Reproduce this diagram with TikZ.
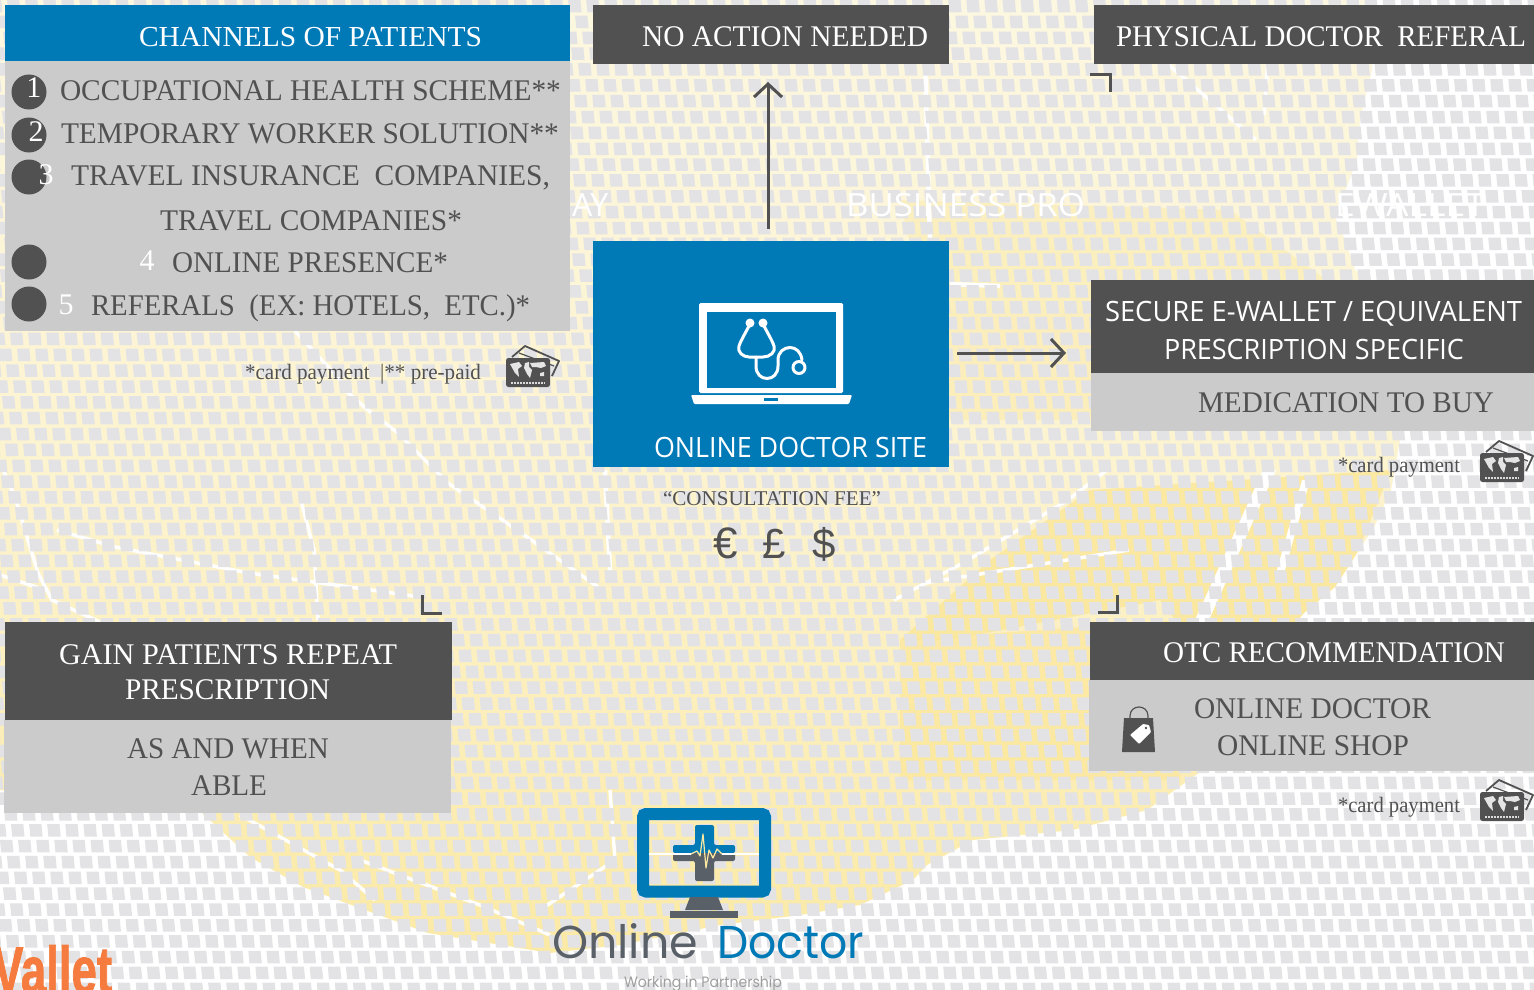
\documentclass[tikz,border=0pt]{standalone}
\usepackage{graphicx}
\usepackage{fontspec}
\usetikzlibrary{arrows.meta}
\setmainfont{Liberation Serif}
\newfontfamily\osans{Open Sans}
\newfontfamily\lsans{Liberation Sans}
\newfontfamily\vbold[BoldFeatures={FakeBold=1.6}]{Liberation Sans}
\newfontfamily\popl{Poppins}
\definecolor{dk}{HTML}{515151}
\definecolor{gr}{HTML}{CBCBCB}
\definecolor{bl}{HTML}{0079B7}
\definecolor{sq}{HTML}{E3E3E5}
\definecolor{ypale}{HTML}{FCF7E0}
\definecolor{ymid}{HTML}{FCF3CE}
\definecolor{ystr}{HTML}{FBE9A2}
\definecolor{ytop}{HTML}{FBE79A}
\definecolor{og}{HTML}{F57C3E}
\definecolor{lg}{HTML}{5A6068}
\newcommand\fw[2]{\resizebox{#1pt}{\height}{#2}}
\newcommand\fz[1]{\fontsize{#1pt}{#1pt}\selectfont}
\newcommand\txt[6]{\node[lab,text=#6] (#1) at (#2,#3) {\fw{#4}{#5}};}
\newcommand\bx[6]{\node[boxn,fill=#6,minimum width=#4pt,minimum height=#5pt] (#1) at (#2,#3) {};}
\newcommand\ylshape{(0,0) -- (1376,0) -- (1372,70) -- (1360,120) -- (1357,160) -- (1335,217) -- (1345,240) -- (1355,270) -- (1400,300) -- (1400,440) -- (1391,490) -- (1374,527) -- (1335,587) -- (1304,613) -- (1230,700) -- (1200,772) -- (1147,810) -- (1073,830) -- (973,840) -- (927,865) -- (913,880) -- (860,905) -- (800,915) -- (720,925) -- (620,945) -- (550,953) -- (428,933) -- (357,907) -- (303,887) -- (250,857) -- (202,813) -- (0,790) -- cycle}
\newcommand\cardicon[3]{%
 \begin{scope}[shift={(#1,#2)}]
 \draw[dk,line width=1.8pt,fill=none,line join=round] (6,-1) -- (19,-12) -- (53,3) -- (46,18);
 \draw[dk,line width=1.2pt] (13,-5) -- (48,8);
 \node[boxn,fill=dk,rounded corners=2.5pt,minimum width=44pt,minimum height=29pt] (#3) at (0,0) {};
 \fill[white!85!dk] (4,6) -- (13,4) -- (16,8) -- (12,11) -- (13,19) -- (9,15) -- cycle;
 \fill[white!85!dk] (19,5) -- (23,4) -- (23,9) -- (26,12) -- (24,20) -- (21,16) -- (18,10) -- cycle;
 \fill[white!85!dk] (24,5) -- (38,4) -- (40,8) -- (35,10) -- (30,9) -- (26,9) -- cycle;
 \fill[white!85!dk] (34,15) -- (38,14) -- (38,18) -- (34,18) -- cycle;
 \draw[white!80!dk,line width=1.2pt,dash pattern=on 1.5pt off 1.5pt] (5,25) -- (39,25);
 \end{scope}}
\tikzset{
 lab/.style={anchor=base west,inner sep=0pt,outer sep=0pt},
 boxn/.style={anchor=north west,inner sep=0pt,outer sep=0pt,draw=none},
 dot/.style={circle,fill=dk,inner sep=0pt,minimum size=35pt},
 num/.style={anchor=center,inner sep=0pt,text=white,font=\fz{30}},
 arr/.style={draw=dk,line width=3pt,-{Straight Barb[length=13pt,width=28pt,line width=3pt]}},
 corner/.style={draw=dk,line width=3pt,line join=miter},
 crack/.style={draw=white,line width=3.5pt,line join=round},
 wbg/.style={lab,text=white,font=\osans\fz{32}}
}
\begin{document}
\begin{tikzpicture}[x=1pt,y=-1pt]
\useasboundingbox (0,0) rectangle (1534,990);
\fill[white] (0,0) rectangle (1534,990);
% yellow map
\begin{scope}
 \clip \ylshape;
 \shade[top color=ypale,bottom color=ystr,middle color=ymid] (0,0) rectangle (1534,990);
 \fill[ytop,opacity=.4] (900,200) -- (1230,210) -- (1340,290) -- (1340,420) -- (950,420) -- cycle;
 \fill[ytop,opacity=.85] (1090,490) -- (1391,470) -- (1330,620) -- (1190,640) -- (1160,600) -- (950,640) -- (900,640) -- (990,560) -- cycle;
 \fill[ytop,opacity=.7] (900,640) -- (1180,620) -- (1180,780) -- (900,780) -- cycle;
 \fill[white] (1263,470) -- (1276,470) -- (1200,640) -- (1186,640) -- cycle;
 \fill[white] (1302,480) -- (1310,480) -- (1285,570) -- (1277,570) -- cycle;
 \draw[crack] (345,390) -- (368,410) -- (398,433) -- (448,483) -- (517,530) -- (598,587);
 \draw[crack] (295,331) -- (352,393);
 \draw[crack] (0,463) -- (15,497) -- (38,573) -- (52,600) -- (100,622);
 \draw[crack] (57,530) -- (115,547) -- (249,573) -- (421,597);
 \draw[crack] (0,575) -- (45,590);
 \draw[crack] (299,493) -- (314,550) -- (318,620);
 \draw[crack] (1107,470) -- (1068,500) -- (963,563) -- (894,600);
 \draw[crack] (924,583) -- (1129,550);
 \draw[crack] (1163,60) -- (1256,140);
 \draw[crack] (1268,60) -- (1264,115);
 \draw[crack,line width=4.5pt] (925,60) -- (930,240);
 \draw[crack,line width=4.5pt] (605,470) -- (610,570);
 \draw[crack,line width=4.5pt] (950,284) -- (1000,286);
 \draw[crack] (610,790) -- (615,860) -- (540,910);
 \draw[crack] (890,900) -- (970,860);
 \draw[crack] (240,815) -- (340,870) -- (375,900);
 \draw[crack] (360,860) -- (480,905) -- (550,935);
\end{scope}
% grey squares
\fill[sq] foreach \r in {0,...,63} {
  foreach \c in {-1,...,85} {
   ({\c*18.1+mod(\r*7,18)},{-16+\r*15.85}) -- ++(12.3,0) -- ++(1.2,12.5) -- ++(-12.3,0) -- cycle
  }
};
% background words
\node[wbg] (wa) at (572,216) {AY};
\node[wbg] (wb) at (846,216) {\fw{239}{BUSINESS PRO}};
\node[wbg] (wc) at (1335,216) {\fw{150}{EWALLET}};
% channels
\bx{chh}{5}{5}{565}{56}{bl}
\bx{chb}{5}{61}{565}{270}{gr}
\txt{cht}{139}{47}{343}{\fz{29}CHANNELS OF PATIENTS}{white}
\foreach \n/\yy in {a/92,b/135,c/177,d/262,e/304}{\node[dot] (c\n) at (29,\yy) {};}
\node[num] (n1) at (34,88) {1};
\node[num] (n2) at (36,132) {2};
\node[num] (n3) at (46,175) {3};
\node[num] (n4) at (147,261) {4};
\node[num] (n5) at (66,305) {5};
\txt{l1}{60}{100}{501}{\fz{30}OCCUPATIONAL HEALTH SCHEME**}{dk}
\txt{l2}{61}{143}{498}{\fz{30}TEMPORARY WORKER SOLUTION**}{dk}
\txt{l3}{71}{185}{479}{\fz{30}TRAVEL INSURANCE\ \ COMPANIES,}{dk}
\txt{l4}{160}{230}{302}{\fz{30}TRAVEL COMPANIES*}{dk}
\txt{l5}{172}{272}{276}{\fz{30}ONLINE PRESENCE*}{dk}
\txt{l6}{91}{315}{439}{\fz{30}REFERALS\ \ (EX: HOTELS,\ \ ETC.)*}{dk}
\txt{nt1}{245}{379}{236}{\fz{22}*card payment\ \ |** pre-paid}{dk}
\cardicon{506}{358}{ic1}
% top boxes
\bx{na}{593}{5}{356}{59}{dk}
\txt{nat}{642}{47}{286}{\fz{30}NO ACTION NEEDED}{white}
\bx{ph}{1094}{5}{440}{59}{dk}
\txt{pht}{1116}{47}{410}{\fz{30}PHYSICAL DOCTOR\ \ REFERAL}{white}
% site
\bx{site}{593}{241}{356}{226}{bl}
\fill[white,rounded corners=1.5pt] (699,303) rectangle (843,393);
\fill[bl] (707,312) rectangle (836,388);
\fill[white,rounded corners=1pt] (691,395) -- (852,395) -- (849,404) -- (694,404) -- cycle;
\fill[bl] (764,398) rectangle (778,400.5);
\begin{scope}[draw=white,line width=3pt,line cap=round,line join=round]
 \fill[white] (750,323) circle (4.5pt) (763,323) circle (4.5pt);
 \draw (750,324) .. controls (746,332) and (741,340) .. (739,346) .. controls (737,352) and (743,357) .. (749,357) -- (763,357) .. controls (770,357) and (776,352) .. (774,346) .. controls (772,340) and (767,332) .. (763,324);
 \draw (756,357) -- (756,366) .. controls (756,374) and (761,378.5) .. (767,378.5) .. controls (773,378.5) and (778,374) .. (778,366) -- (778,360) .. controls (778,352) and (784,347.5) .. (790,347.5) .. controls (796,347.5) and (801,352) .. (802,360);
 \draw (799,367.5) circle (6pt);
\end{scope}
\txt{st}{654}{457}{273}{\osans\fz{28}ONLINE DOCTOR SITE}{white}
\txt{fee}{663}{505}{218}{\fz{21}“CONSULTATION FEE”}{dk}
\node[lab,text=dk] (eu) at (713,558) {\lsans\fz{44}€};
\node[lab,text=dk] (po) at (762,558) {\lsans\fz{42}£};
\node[lab,text=dk] (dl) at (812,558) {\lsans\fz{42}\$};
% arrows
\coordinate (upa) at (768,229);
\coordinate (upb) at (768,82);
\coordinate (ra) at (957,353);
\coordinate (rb) at (1066,353);
\draw[arr] (upa) -- (upb);
\draw[arr] (ra) -- (rb);
\draw[corner] (1090,74.5) -- (1110.5,74.5) -- (1110.5,92);
\draw[corner] (1098,612.5) -- (1117.5,612.5) -- (1117.5,595);
\draw[corner] (422.5,595) -- (422.5,613) -- (442,613);
% wallet
\bx{w1}{1091}{280}{443}{93}{dk}
\bx{w2}{1091}{373}{443}{58}{gr}
\txt{wt1}{1105}{321}{417}{\osans\fz{28}SECURE E-WALLET / EQUIVALENT}{white}
\txt{wt2}{1164}{359}{300}{\osans\fz{28}PRESCRIPTION SPECIFIC}{white}
\txt{wt3}{1198}{412}{296}{\fz{30}MEDICATION TO BUY}{dk}
\txt{nt2}{1338}{472}{122}{\fz{22}*card payment}{dk}
\cardicon{1480}{453}{ic2}
% OTC
\bx{o1}{1090}{622}{444}{58}{dk}
\bx{o2}{1089}{680}{445}{91}{gr}
\txt{ot1}{1163}{662}{342}{\fz{30}OTC RECOMMENDATION}{white}
\txt{ot2}{1194}{718}{237}{\fz{30}ONLINE DOCTOR}{dk}
\txt{ot3}{1217}{755}{192}{\fz{30}ONLINE SHOP}{dk}
\draw[dk,line width=1.2pt] (1130,720) -- (1130,716) .. controls (1130,704) and (1148,704) .. (1148,716) -- (1148,720);
\fill[dk] (1124,718) -- (1153,718) -- (1155,752) -- (1122,752) -- cycle;
\fill[white,rounded corners=.8pt] (1130,735) -- (1139,744) -- (1151,732) -- (1149,725) -- (1143,724) -- cycle;
\fill[dk] (1146,728) circle (1.3pt);
\txt{nt3}{1338}{812}{122}{\fz{22}*card payment}{dk}
\cardicon{1480}{792}{ic3}
% gain
\bx{g1}{5}{622}{447}{98}{dk}
\bx{g2}{4}{720}{447}{93}{gr}
\txt{gt1}{59}{664}{338}{\fz{30}GAIN PATIENTS REPEAT}{white}
\txt{gt2}{125}{699}{205}{\fz{30}PRESCRIPTION}{white}
\txt{gt3}{127}{758}{202}{\fz{30}AS AND WHEN}{dk}
\txt{gt4}{191}{795}{76}{\fz{30}ABLE}{dk}
% logo
\draw[bl,line width=12pt,rounded corners=3pt] (643,814) rectangle (765,891.5);
\fill[bl,rounded corners=2pt] (695,825) -- (714,825) -- (714,845) -- (735,845) -- (735,853) -- (673,853) -- (673,845) -- (695,845) -- cycle;
\fill[lg,rounded corners=2pt] (673,853) -- (735,853) -- (735,861) -- (714,861) -- (714,881) -- (695,881) -- (695,861) -- (673,861) -- cycle;
\draw[white,line width=1.2pt] (649,854) -- (691,854) (722,854) -- (759,854);
\draw[ystr,line width=1.2pt,line join=round] (691,854) -- (697,851) -- (700,856) -- (703,834) -- (706,868) -- (709,850) -- (713,858) -- (717,849) -- (722,854);
\fill[lg] (690,897) -- (718,897) -- (723,910) -- (685,910) -- cycle;
\fill[lg] (670,911) rectangle (738,918);
\txt{lo1}{552}{958}{146}{\popl\fz{46}Online}{lg}
\txt{lo2}{717}{958}{147}{\popl\fz{46}Doctor}{bl}
\txt{lo3}{624}{987}{158}{\popl\fz{15}Working in Partnership}{black!38}
\txt{val}{-7}{993}{119}{\vbold\bfseries\fz{66}Vallet}{og}
\end{tikzpicture}
\end{document}
